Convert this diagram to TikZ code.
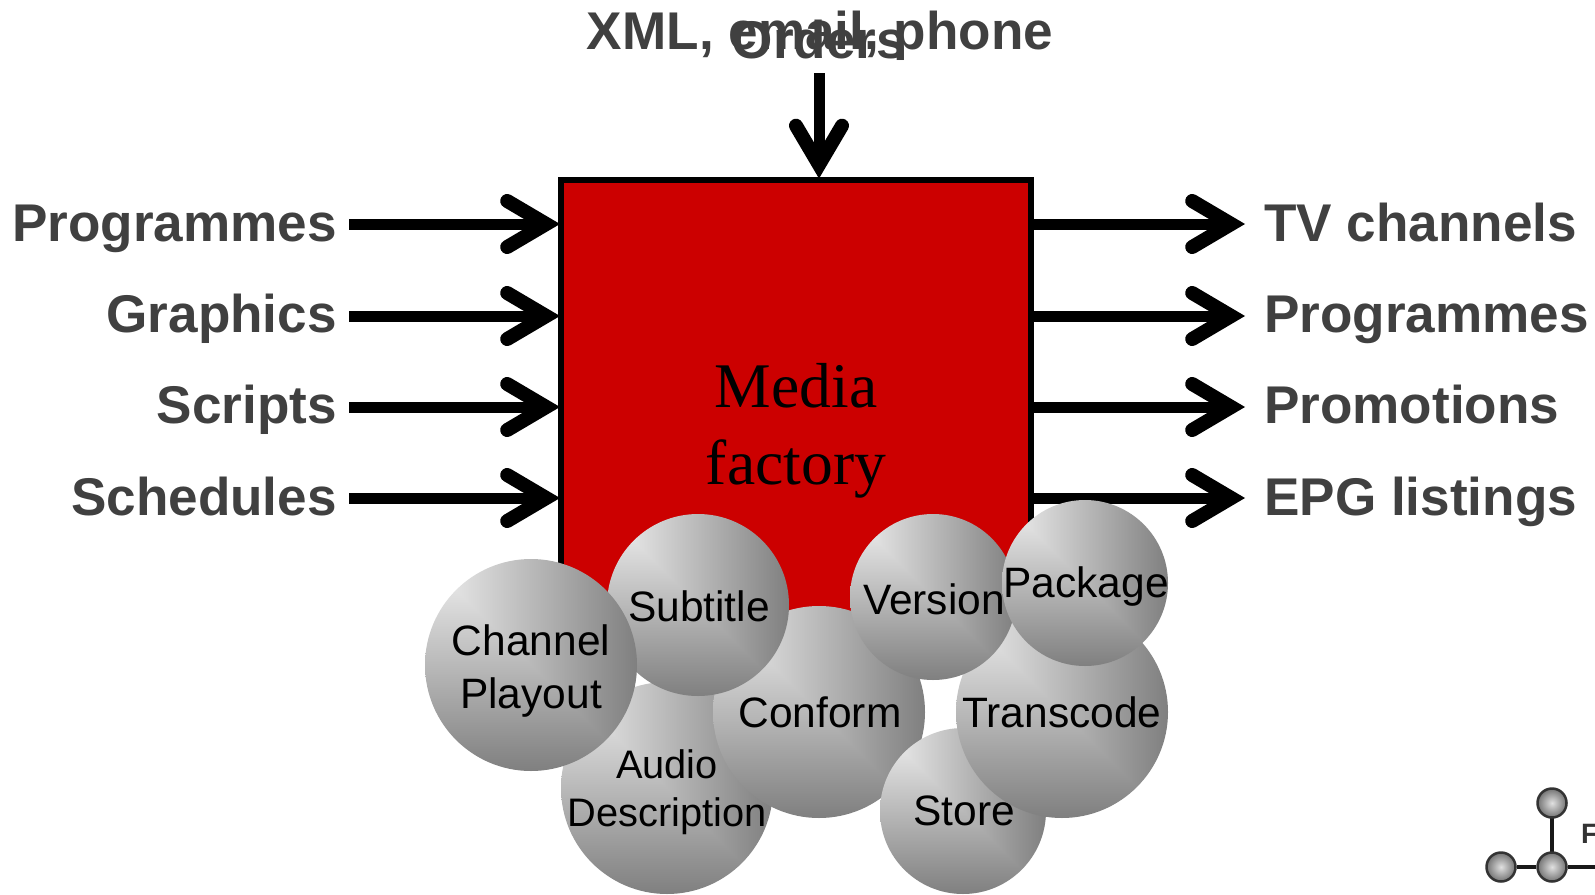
\documentclass[tikz,border=0pt]{standalone}
\usepackage{fontspec}
\setmainfont{Liberation Sans}
\newfontfamily\serifface{Liberation Serif}
\usetikzlibrary{arrows.meta}
\definecolor{FactoryClr}{rgb}{0.8,0,0}
\definecolor{LabelClr}{rgb}{0.25,0.25,0.25}
\pgfdeclarefunctionalshading{cornerball}{\pgfpoint{-50bp}{-50bp}}{\pgfpoint{50bp}{50bp}}{}{
  % x y on the stack: distance from the top left corner
  neg 25 add exch 25 add 2 copy lt {exch} if pop
  50 div 0.45 mul neg 0.95 add dup dup
}
\tikzset{
  flowline/.style={line width=11pt,shorten >=-2pt,-{Straight Barb[length=39pt,width=46pt,line width=14pt,line cap=round]}},
  flowlabel/.style={font=\fontsize{53.1}{53.1}\selectfont\bfseries,text=LabelClr,inner sep=0pt},
  factoryword/.style={anchor=base,font=\serifface\fontsize{63.6}{63.6}\selectfont,text=black,inner sep=0pt},
  task/.style={circle,shading=cornerball,inner sep=0pt},
  taskword/.style={font=\fontsize{42.5}{#1}\selectfont,align=center,text=black,inner sep=0pt},
  taskword/.default=48,
  logoball/.style={circle,draw=black!80,line width=2.5pt,inner color=black!12,outer color=black!55,minimum size=29pt,inner sep=0pt}
}

\begin{document}
\begin{tikzpicture}[x=1pt,y=-1pt]
\useasboundingbox (0,0) rectangle (1595,894);

\node[draw=black,fill=FactoryClr,line width=6pt,minimum width=470pt,minimum height=469pt,inner sep=0pt] (factory) at (796,414) {};
\node[factoryword] (mediaword) at (796,407) {Media};
\node[factoryword] (factoryname) at (796,484) {factory};

\node[flowlabel,anchor=base] (xmlword) at (820,49) {XML, email, phone};
\node[flowlabel,anchor=base] (ordersword) at (819,58) {Orders};

\node[flowlabel,anchor=base east] (inProg) at (337,241) {Programmes};
\node[flowlabel,anchor=base east] (inGraph) at (337,332) {Graphics};
\node[flowlabel,anchor=base east] (inScript) at (337,423) {Scripts};
\node[flowlabel,anchor=base east] (inSched) at (337,515) {Schedules};

\node[flowlabel,anchor=base west] (outTv) at (1264,241) {TV channels};
\node[flowlabel,anchor=base west] (outProg) at (1264,332) {Programmes};
\node[flowlabel,anchor=base west] (outPromo) at (1264,423) {Promotions};
\node[flowlabel,anchor=base west] (outEpg) at (1264,515) {EPG listings};

\coordinate (orderStart) at (819,73);
\coordinate (inProgStart) at (349,224);
\coordinate (inGraphStart) at (349,316);
\coordinate (inScriptStart) at (349,407);
\coordinate (inSchedStart) at (349,498);
\coordinate (outTvEnd) at (1243,224);
\coordinate (outProgEnd) at (1243,316);
\coordinate (outPromoEnd) at (1243,407);
\coordinate (outEpgEnd) at (1243,498);

\draw[flowline] (orderStart) -- (orderStart |- factory.north);
\draw[flowline] (inProgStart) -- (inProgStart -| factory.west);
\draw[flowline] (inGraphStart) -- (inGraphStart -| factory.west);
\draw[flowline] (inScriptStart) -- (inScriptStart -| factory.west);
\draw[flowline] (inSchedStart) -- (inSchedStart -| factory.west);
\draw[flowline] (outTvEnd -| factory.east) -- (outTvEnd);
\draw[flowline] (outProgEnd -| factory.east) -- (outProgEnd);
\draw[flowline] (outPromoEnd -| factory.east) -- (outPromoEnd);
\draw[flowline] (outEpgEnd -| factory.east) -- (outEpgEnd);

\node[task,minimum size=212pt] (audio) at (667,788) {};
\node[taskword,font=\fontsize{39.8}{48}\selectfont] (audioword) at (667,792) {Audio\\Description};
\node[task,minimum size=212pt] (conform) at (819,712) {};
\node[taskword] (conformword) at (820,712) {Conform};
\node[task,minimum size=182pt] (subtitle) at (698,605) {};
\node[taskword] (subtitleword) at (699,606) {Subtitle};
\node[task,minimum size=212pt] (channel) at (531,665) {};
\node[taskword=53] (channelword) at (531,671) {Channel\\Playout};
\node[task,minimum size=166pt] (store) at (963,811) {};
\node[taskword] (storeword) at (964,811) {Store};
\node[task,minimum size=212pt] (transcode) at (1062,712) {};
\node[taskword] (transcodeword) at (1062,712) {Transcode};
\node[task,minimum size=166pt] (version) at (933,597) {};
\node[taskword] (versionword) at (934,599) {Version};
\node[task,minimum size=166pt] (package) at (1085,583) {};
\node[taskword] (packageword) at (1086,587) {Package};

% logo in the corner
\coordinate (logoEnd) at (1595,867);
\draw[line width=4pt,black!90] (1552,803) -- (1552,867);
\node[logoball] (logoTop) at (1552,803) {};
\node[logoball] (logoLeft) at (1501,867) {};
\node[logoball] (logoMid) at (1552,867) {};
\draw[line width=4pt,black!90] (logoLeft) -- (logoMid);
\draw[line width=4pt,black!90] (logoMid) -- (logoEnd);
\node[anchor=base west,inner sep=0pt,font=\fontsize{28}{28}\selectfont\bfseries,text=black!80] (logoword) at (1581,843) {F};
\end{tikzpicture}
\end{document}
